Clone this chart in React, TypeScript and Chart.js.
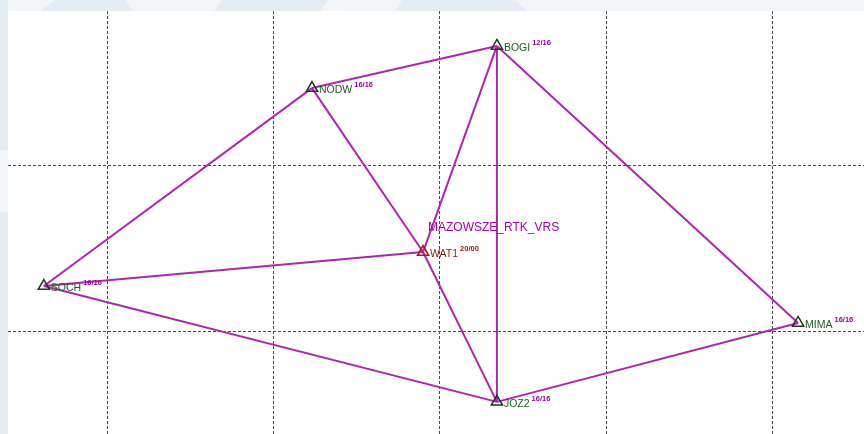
import React, { useEffect, useRef } from "react";
import { Chart, registerables } from "chart.js";

Chart.register(...registerables);

// Station data (grid units, 1 unit = one grid cell)
const stationNames = ["BOGI", "NODW", "SOCH", "WAT1", "MIMA", "JOZ2"];
const stationEast = [2.343, 1.229, -0.386, 1.898, 4.157, 2.343];
const stationNorth = [1.718, 1.465, 0.276, 0.48, 0.054, -0.42];
const stationRatios = ["12/16", "16/16", "16/16", "20/00", "16/16", "16/16"];
const referenceStation = "WAT1";

// Baselines of the network
const baselineFrom = ["SOCH", "NODW", "NODW", "WAT1", "BOGI", "BOGI", "BOGI", "SOCH", "SOCH", "JOZ2"];
const baselineTo = ["NODW", "BOGI", "WAT1", "JOZ2", "WAT1", "JOZ2", "MIMA", "WAT1", "JOZ2", "MIMA"];

// Grid ticks
const gridEast = [0, 1, 2, 3, 4];
const gridNorth = [0, 1];

const networkName = "MAZOWSZE_RTK_VRS";
const networkLabelEast = 1.928;
const networkLabelNorth = 0.625;

const LINE_COLOR = "rgb(176, 36, 176)";
const NAME_COLOR = "#1b5a22";
const REF_COLOR = "#8a1818";
const RATIO_COLOR = "#9c009f";

export default function App() {
  const ref = useRef<HTMLCanvasElement | null>(null);

  useEffect(() => {
    document.body.style.margin = "0";
    const canvas = ref.current;
    if (!canvas) return;

    const idx = (n: string) => stationNames.indexOf(n);

    const lineSets = baselineFrom.map((a, i) => {
      const b = baselineTo[i];
      return {
        type: "line" as const,
        data: [
          { x: stationEast[idx(a)], y: stationNorth[idx(a)] },
          { x: stationEast[idx(b)], y: stationNorth[idx(b)] },
        ],
        borderColor: LINE_COLOR,
        borderWidth: 2,
        pointRadius: 0,
        showLine: true,
        fill: false,
        order: 2,
      };
    });

    const pointSet = {
      type: "scatter" as const,
      data: stationNames.map((_, i) => ({ x: stationEast[i], y: stationNorth[i] })),
      pointStyle: "triangle",
      pointRadius: 6.5,
      pointBorderWidth: 1.5,
      pointBackgroundColor: "rgba(255,255,255,0)",
      pointBorderColor: stationNames.map((n) => (n === referenceStation ? "#b3121a" : "#1c3a1c")),
      showLine: false,
      order: 1,
    };

    const backgroundPlugin = {
      id: "bgWatermark",
      beforeDraw(chart: any) {
        const c = chart.ctx;
        const w = chart.width;
        const h = chart.height;
        c.save();
        c.fillStyle = "#fdfdfe";
        c.fillRect(0, 0, w, h);
        c.fillStyle = "#f3f6f9";
        c.fillRect(0, 0, w, 11);
        c.fillRect(0, 0, 8, h);
        c.fillStyle = "#e6ecf3";
        const polys = [
          [[40, 11], [55, 0], [125, 0], [134, 11]],
          [[214, 11], [222, 0], [328, 0], [320, 11]],
          [[395, 11], [402, 0], [515, 0], [528, 11]],
        ];
        polys.forEach((p) => {
          c.beginPath();
          c.moveTo(p[0][0], p[0][1]);
          for (let k = 1; k < p.length; k++) c.lineTo(p[k][0], p[k][1]);
          c.closePath();
          c.fill();
        });
        c.fillRect(0, 0, 8, 150);
        c.fillRect(0, 212, 8, h - 212);
        c.fillStyle = "#ffffff";
        const a = chart.chartArea;
        c.fillRect(a.left, a.top, a.right - a.left, a.bottom - a.top);
        c.restore();
      },
    };

    const labelPlugin = {
      id: "stationLabels",
      afterDatasetsDraw(chart: any) {
        const c = chart.ctx;
        const xs = chart.scales.x;
        const ys = chart.scales.y;
        c.save();
        c.textBaseline = "middle";
        c.textAlign = "left";
        stationNames.forEach((n, i) => {
          const px = xs.getPixelForValue(stationEast[i]);
          const py = ys.getPixelForValue(stationNorth[i]);
          c.font = "10.5px 'Liberation Sans', Arial, sans-serif";
          c.fillStyle = n === referenceStation ? REF_COLOR : NAME_COLOR;
          c.fillText(n, px + 7, py + 2);
          const wName = c.measureText(n).width;
          c.font = "bold 7.5px 'Liberation Sans', Arial, sans-serif";
          c.fillStyle = n === referenceStation ? REF_COLOR : RATIO_COLOR;
          c.fillText(stationRatios[i], px + 7 + wName + 2, py - 3);
        });
        c.font = "12px 'Liberation Sans', Arial, sans-serif";
        c.fillStyle = "#a800ac";
        c.fillText(
          networkName,
          xs.getPixelForValue(networkLabelEast),
          ys.getPixelForValue(networkLabelNorth)
        );
        c.restore();
      },
    };

    const gridCommon = {
      drawTicks: false,
      color: "#4a4a4a",
      lineWidth: 1,
    };

    const chart = new Chart(canvas, {
      type: "scatter",
      data: { datasets: [...lineSets, pointSet] as any },
      options: {
        animation: false,
        responsive: false,
        events: [],
        layout: { autoPadding: false, padding: { left: 8, top: 11, right: 0, bottom: 0 } },
        plugins: { legend: { display: false }, tooltip: { enabled: false } },
        scales: {
          x: {
            type: "linear",
            min: -0.602,
            max: 4.554,
            ticks: { display: false },
            grid: gridCommon,
            border: { display: false, dash: [3, 2] },
            afterBuildTicks: (axis: any) => {
              axis.ticks = gridEast.map((v) => ({ value: v }));
            },
          },
          y: {
            type: "linear",
            min: -0.613,
            max: 1.928,
            ticks: { display: false },
            grid: gridCommon,
            border: { display: false, dash: [3, 2] },
            afterBuildTicks: (axis: any) => {
              axis.ticks = gridNorth.map((v) => ({ value: v }));
            },
          },
        },
      } as any,
      plugins: [backgroundPlugin, labelPlugin],
    });

    return () => chart.destroy();
  }, []);

  return (
    <div style={{ width: 864, height: 434 }}>
      <canvas ref={ref} width={864} height={434} style={{ display: "block" }} />
    </div>
  );
}
